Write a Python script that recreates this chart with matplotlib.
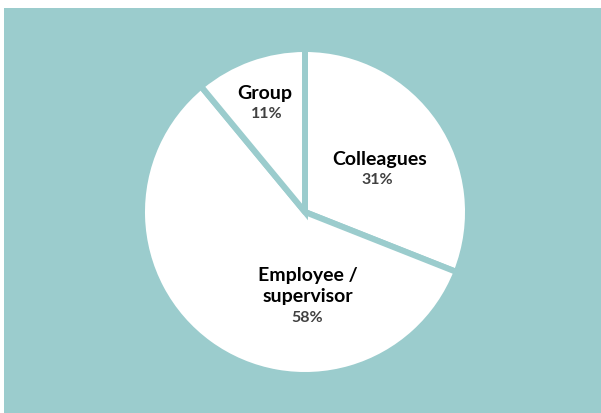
import matplotlib
matplotlib.use("Agg")
import matplotlib.pyplot as plt
from matplotlib.patches import Rectangle

# data
labels = ["Colleagues", "Employee /\nsupervisor", "Group"]
shares = [31, 58, 11]
pct_labels = ["31%", "58%", "11%"]

teal = "#9bcccd"

fig = plt.figure(figsize=(6.01, 4.13), dpi=100)
ax = fig.add_axes([0, 0, 1, 1])

# teal panel (thin white margin on top / left)
ax.add_patch(Rectangle((4, 0), 597, 405, facecolor=teal, edgecolor="none", zorder=0))

wedges, _ = ax.pie(shares, startangle=90, counterclock=False, colors=["white"] * 3,
                   center=(305, 201), radius=163,
                   wedgeprops=dict(edgecolor=teal, linewidth=4.3))

# label positions (pixels, y from bottom)
name_pos = [(380, 254), (308, 127), (265, 319)]
pct_pos = [(377, 233), (307, 95), (267, 299)]
for lab, p, (nx_, ny), (px, py) in zip(labels, pct_labels, name_pos, pct_pos):
    ax.text(nx_, ny, lab, ha="center", va="center", fontsize=14, fontweight="bold",
            family="Lato", color="black", linespacing=1.35)
    ax.text(px, py, p, ha="center", va="center", fontsize=11.5, fontweight="bold",
            family="Lato", color="#404040")

ax.set_xlim(0, 601)
ax.set_ylim(0, 413)
ax.set_aspect("equal")
ax.axis("off")

fig.savefig("out.png", dpi=100, facecolor="white")
